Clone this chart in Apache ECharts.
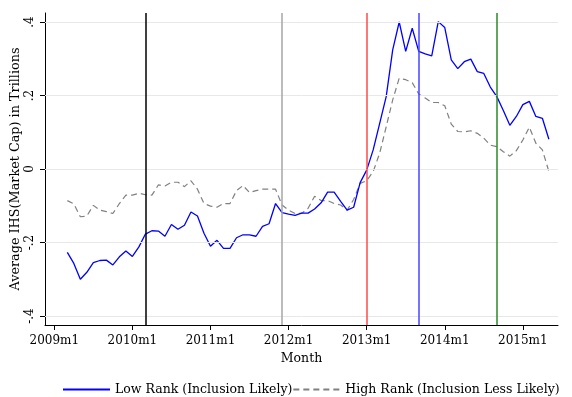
<!DOCTYPE html>
<html>
<head>
<meta charset="utf-8">
<script src="https://cdn.jsdelivr.net/npm/echarts@6/dist/echarts.min.js"></script>
<style>
  html, body { margin: 0; padding: 0; background: #fff; }
  #chart { width: 572px; height: 397px; }
</style>
</head>
<body>
<div id="chart"></div>
<script>
// Monthly series, 2009m3 .. 2015m5
const firstMonth = '2009m3';
const lowRank = [
  -0.227, -0.257, -0.300, -0.281, -0.255, -0.249, -0.248, -0.261, -0.239, -0.223,
  -0.238, -0.212, -0.177, -0.168, -0.169, -0.183, -0.151, -0.164, -0.153, -0.117,
  -0.128, -0.175, -0.210, -0.194, -0.216, -0.216, -0.187, -0.179, -0.179, -0.183,
  -0.156, -0.149, -0.094, -0.119, -0.123, -0.126, -0.120, -0.120, -0.109, -0.092,
  -0.063, -0.063, -0.088, -0.112, -0.104, -0.037, -0.003, 0.052, 0.124, 0.197,
  0.324, 0.400, 0.320, 0.383, 0.320, 0.313, 0.308, 0.401, 0.385, 0.297,
  0.273, 0.292, 0.299, 0.265, 0.260, 0.223, 0.197, 0.159, 0.119, 0.143,
  0.175, 0.184, 0.143, 0.138, 0.081
];
const highRank = [
  -0.086, -0.095, -0.130, -0.128, -0.099, -0.112, -0.116, -0.121, -0.094, -0.071,
  -0.071, -0.066, -0.070, -0.071, -0.043, -0.046, -0.036, -0.036, -0.048, -0.032,
  -0.055, -0.094, -0.101, -0.104, -0.094, -0.094, -0.059, -0.045, -0.064, -0.059,
  -0.055, -0.055, -0.055, -0.098, -0.112, -0.121, -0.121, -0.107, -0.074, -0.086,
  -0.086, -0.094, -0.098, -0.112, -0.083, -0.039, -0.032, -0.007, 0.043, 0.115,
  0.188, 0.247, 0.243, 0.235, 0.204, 0.193, 0.181, 0.181, 0.172, 0.122,
  0.102, 0.101, 0.104, 0.097, 0.084, 0.065, 0.061, 0.047, 0.035, 0.050,
  0.079, 0.114, 0.070, 0.052, -0.007
];
const xTickLabels = ['2009m1', '2010m1', '2011m1', '2012m1', '2013m1', '2014m1', '2015m1'];
const yTickValues = [-0.4, -0.2, 0, 0.2, 0.4];
const yTickLabels = ['-.4', '-.2', '0', '.2', '.4'];
const eventMonths = ['2010m3', '2011m12', '2013m1', '2013m9', '2014m9'];
const eventColors = ['#000000', '#a6a6a6', '#ff4a4a', '#4646ff', '#2a8a2a'];
const seriesNames = ['Low Rank (Inclusion Likely)', 'High Rank (Inclusion Less Likely)'];

// months counted from 2009m1
function monthIndex(s) {
  const [y, m] = s.split('m').map(Number);
  return (y - 2009) * 12 + (m - 1);
}
const start = monthIndex(firstMonth);
const toPairs = arr => arr.map((v, i) => [start + i, v]);
const xTickValues = xTickLabels.map(monthIndex);

const FONT = 'DejaVu Serif';
const FS = 12;

const chart = echarts.init(document.getElementById('chart'));
chart.setOption({
  animation: false,
  backgroundColor: '#ffffff',
  textStyle: { fontFamily: FONT, color: '#000' },
  grid: { left: 45, right: 14, top: 13, bottom: 72, containLabel: false, outerBoundsMode: 'none' },
  legend: {
    top: 378,
    left: 57,
    width: 580,
    itemWidth: 47,
    itemHeight: 12,
    itemGap: 0,
    itemStyle: { opacity: 0 },
    textStyle: { fontFamily: FONT, fontSize: 12.5, color: '#000' },
    data: seriesNames
  },
  xAxis: {
    type: 'value',
    min: -1.43,
    max: 77.4,
    name: 'Month',
    nameLocation: 'middle',
    nameGap: 27,
    nameMoveOverlap: false,
    nameTextStyle: { fontFamily: FONT, fontSize: 12.5, color: '#000' },
    axisLine: { onZero: false, lineStyle: { color: '#000', width: 1 } },
    axisTick: { customValues: xTickValues, length: 5, lineStyle: { color: '#000' } },
    axisLabel: {
      customValues: xTickValues,
      formatter: v => xTickLabels[xTickValues.indexOf(v)] || '',
      fontFamily: FONT, fontSize: FS, color: '#000', margin: 10
    },
    splitLine: { show: false }
  },
  yAxis: {
    type: 'value',
    min: -0.4245,
    max: 0.4245,
    name: 'Average IHS(Market Cap) in Trillions',
    nameLocation: 'middle',
    nameGap: 23,
    nameMoveOverlap: false,
    nameTextStyle: { fontFamily: FONT, fontSize: 12.8, color: '#000' },
    axisLine: { show: true, onZero: false, lineStyle: { color: '#000', width: 1 } },
    axisTick: { show: true, customValues: yTickValues, length: 5, lineStyle: { color: '#000' } },
    axisLabel: {
      customValues: yTickValues,
      rotate: 90,
      formatter: v => {
        const i = yTickValues.findIndex(t => Math.abs(t - v) < 1e-9);
        return i >= 0 ? yTickLabels[i] : '';
      },
      fontFamily: FONT, fontSize: FS, color: '#000', margin: 9
    },
    splitLine: { show: false }
  },
  series: [
    {
      // horizontal grid lines and event markers
      type: 'line',
      data: [],
      silent: true,
      markLine: {
        silent: true,
        symbol: 'none',
        label: { show: false },
        animation: false,
        data: [
          ...yTickValues.map(v => ({ yAxis: v, lineStyle: { color: '#e8e8e8', width: 1, type: 'solid' } })),
          ...eventMonths.map((m, i) => ({ xAxis: monthIndex(m), lineStyle: { color: eventColors[i], width: 1.5, type: 'solid' } }))
        ]
      }
    },
    {
      name: seriesNames[0],
      type: 'line',
      data: toPairs(lowRank),
      showSymbol: false,
      symbol: 'none',
      lineStyle: { color: '#0000ff', width: 1.3 },
      itemStyle: { color: '#0000ff' },
      z: 3
    },
    {
      name: seriesNames[1],
      type: 'line',
      data: toPairs(highRank),
      showSymbol: false,
      symbol: 'none',
      lineStyle: { color: '#808080', width: 1.2, type: [6, 4] },
      itemStyle: { color: '#808080' },
      z: 2
    }
  ]
});
</script>
</body>
</html>
